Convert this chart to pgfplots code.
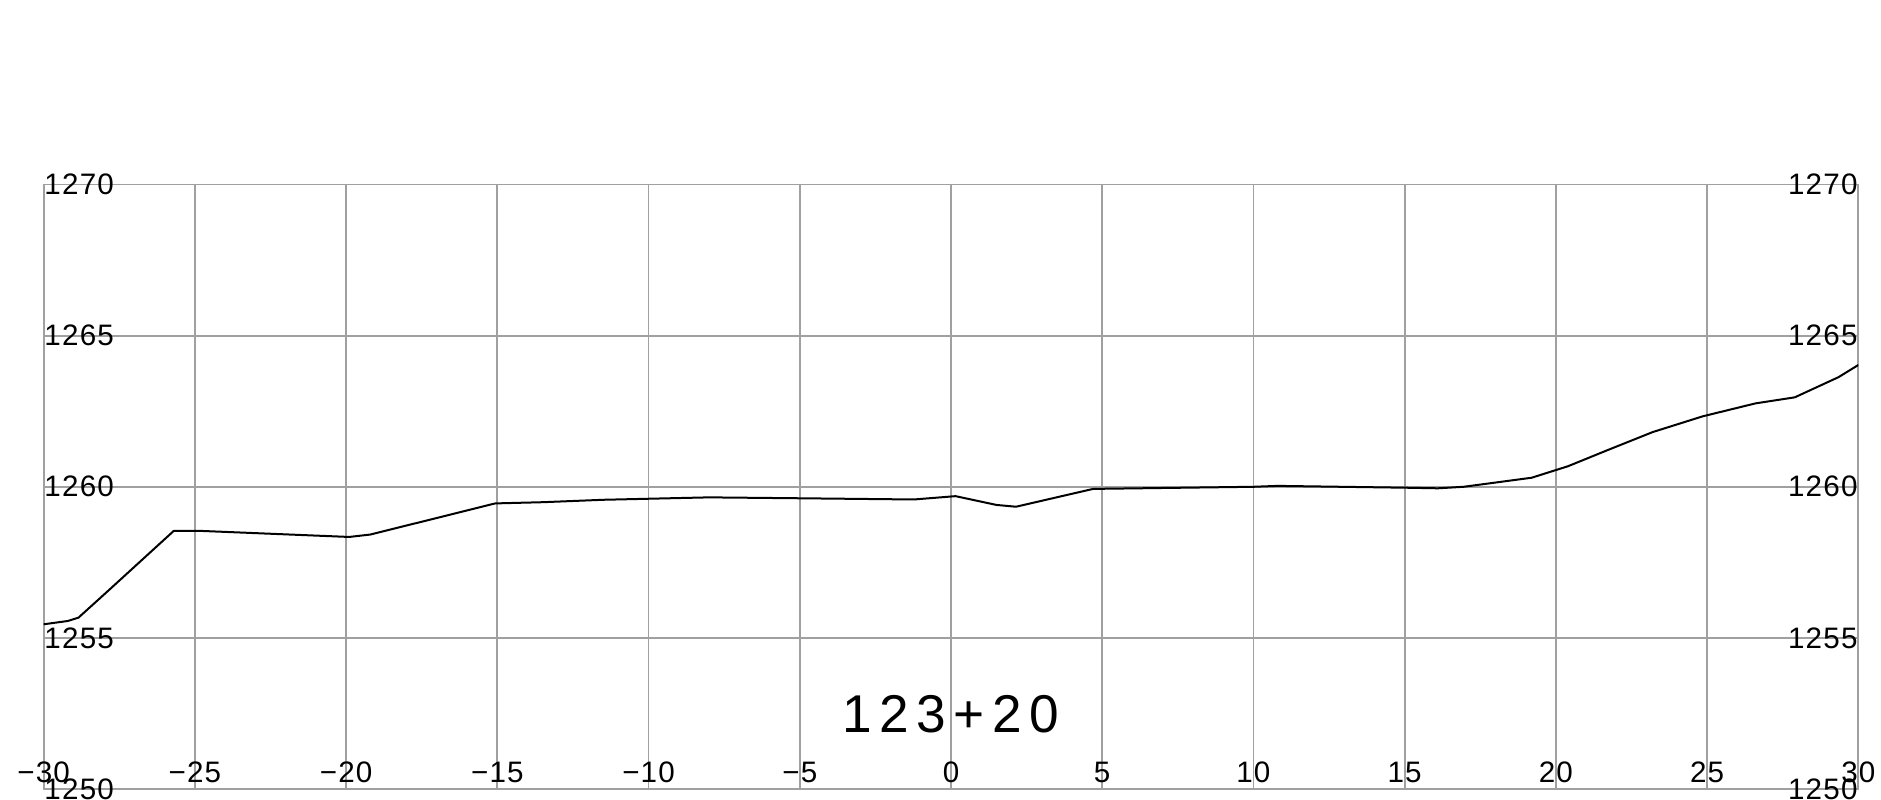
\documentclass[border=0pt]{standalone}
\usepackage{pgfplots}
\pgfplotsset{compat=1.18}
\usepackage{fontspec}
\setmainfont{Liberation Sans}
\newfontfamily\tickfont[LetterSpace=4]{Liberation Sans}
\newfontfamily\titlefont[LetterSpace=14]{Liberation Sans}
\definecolor{gridgray}{RGB}{160,160,160}
\pgfplotstableread{
x y
-30 1255.45
-29.2 1255.56
-28.85 1255.67
-27.9 1256.53
-25.7 1258.54
-24.8 1258.54
-19.9 1258.34
-19.2 1258.42
-15.07 1259.45
-13.5 1259.49
-11.5 1259.57
-8.0 1259.65
-5.0 1259.62
-1.23 1259.58
0.15 1259.69
1.5 1259.40
2.15 1259.34
3.1 1259.56
4.7 1259.93
10.0 1260.0
10.8 1260.03
15.0 1259.97
16.1 1259.95
16.95 1260.0
19.2 1260.3
20.4 1260.68
21.8 1261.25
23.2 1261.81
24.85 1262.33
26.6 1262.76
27.9 1262.96
29.35 1263.63
30 1264.03
}\profile
\begin{document}
\begin{tikzpicture}
\useasboundingbox (-10.925pt,-2.75pt) rectangle (459.325pt,197.25pt);
\clip (-10.925pt,-2.75pt) rectangle (459.325pt,197.25pt);
\begin{axis}[
  at={(0,0)}, anchor=south west, scale only axis,
  width=453.65pt, height=151.1pt,
  xmin=-30, xmax=30, ymin=1250, ymax=1270,
  xtick={-30,-25,...,30}, ytick={1250,1255,...,1270},
  xticklabels={−30,−25,−20,−15,−10,−5,0,5,10,15,20,25,30},
  yticklabels={1250,1255,1260,1265,1270},
  grid=major, grid style={gridgray, line width=0.45pt},
  axis line style={gridgray, line width=0.45pt},
  major tick length=0pt, tick style={draw=none},
  ytick pos=left, xtick pos=bottom,
  yticklabel style={anchor=west, inner sep=0pt, font=\tickfont\fontsize{7.4}{8}\selectfont},
  xticklabel style={anchor=base, yshift=1.6pt, inner sep=0pt, font=\tickfont\fontsize{7.4}{8}\selectfont},
]
\addplot[black, line width=0.5pt] table[x=x, y=y] {\profile};
\node[font=\titlefont\fontsize{13.3}{14}\selectfont, inner sep=0pt] at (axis cs:0,1252.48) {123+20};
\end{axis}
\begin{axis}[
  at={(0,0)}, anchor=south west, scale only axis,
  width=453.65pt, height=151.1pt,
  xmin=-30, xmax=30, ymin=1250, ymax=1270,
  xtick=\empty, ytick={1250,1255,...,1270},
  yticklabels={1250,1255,1260,1265,1270},
  axis line style={draw=none},
  major tick length=0pt, tick style={draw=none},
  ytick pos=right, yticklabel pos=right,
  yticklabel style={anchor=east, inner sep=0pt, font=\tickfont\fontsize{7.4}{8}\selectfont},
]
\end{axis}
\end{tikzpicture}
\end{document}
